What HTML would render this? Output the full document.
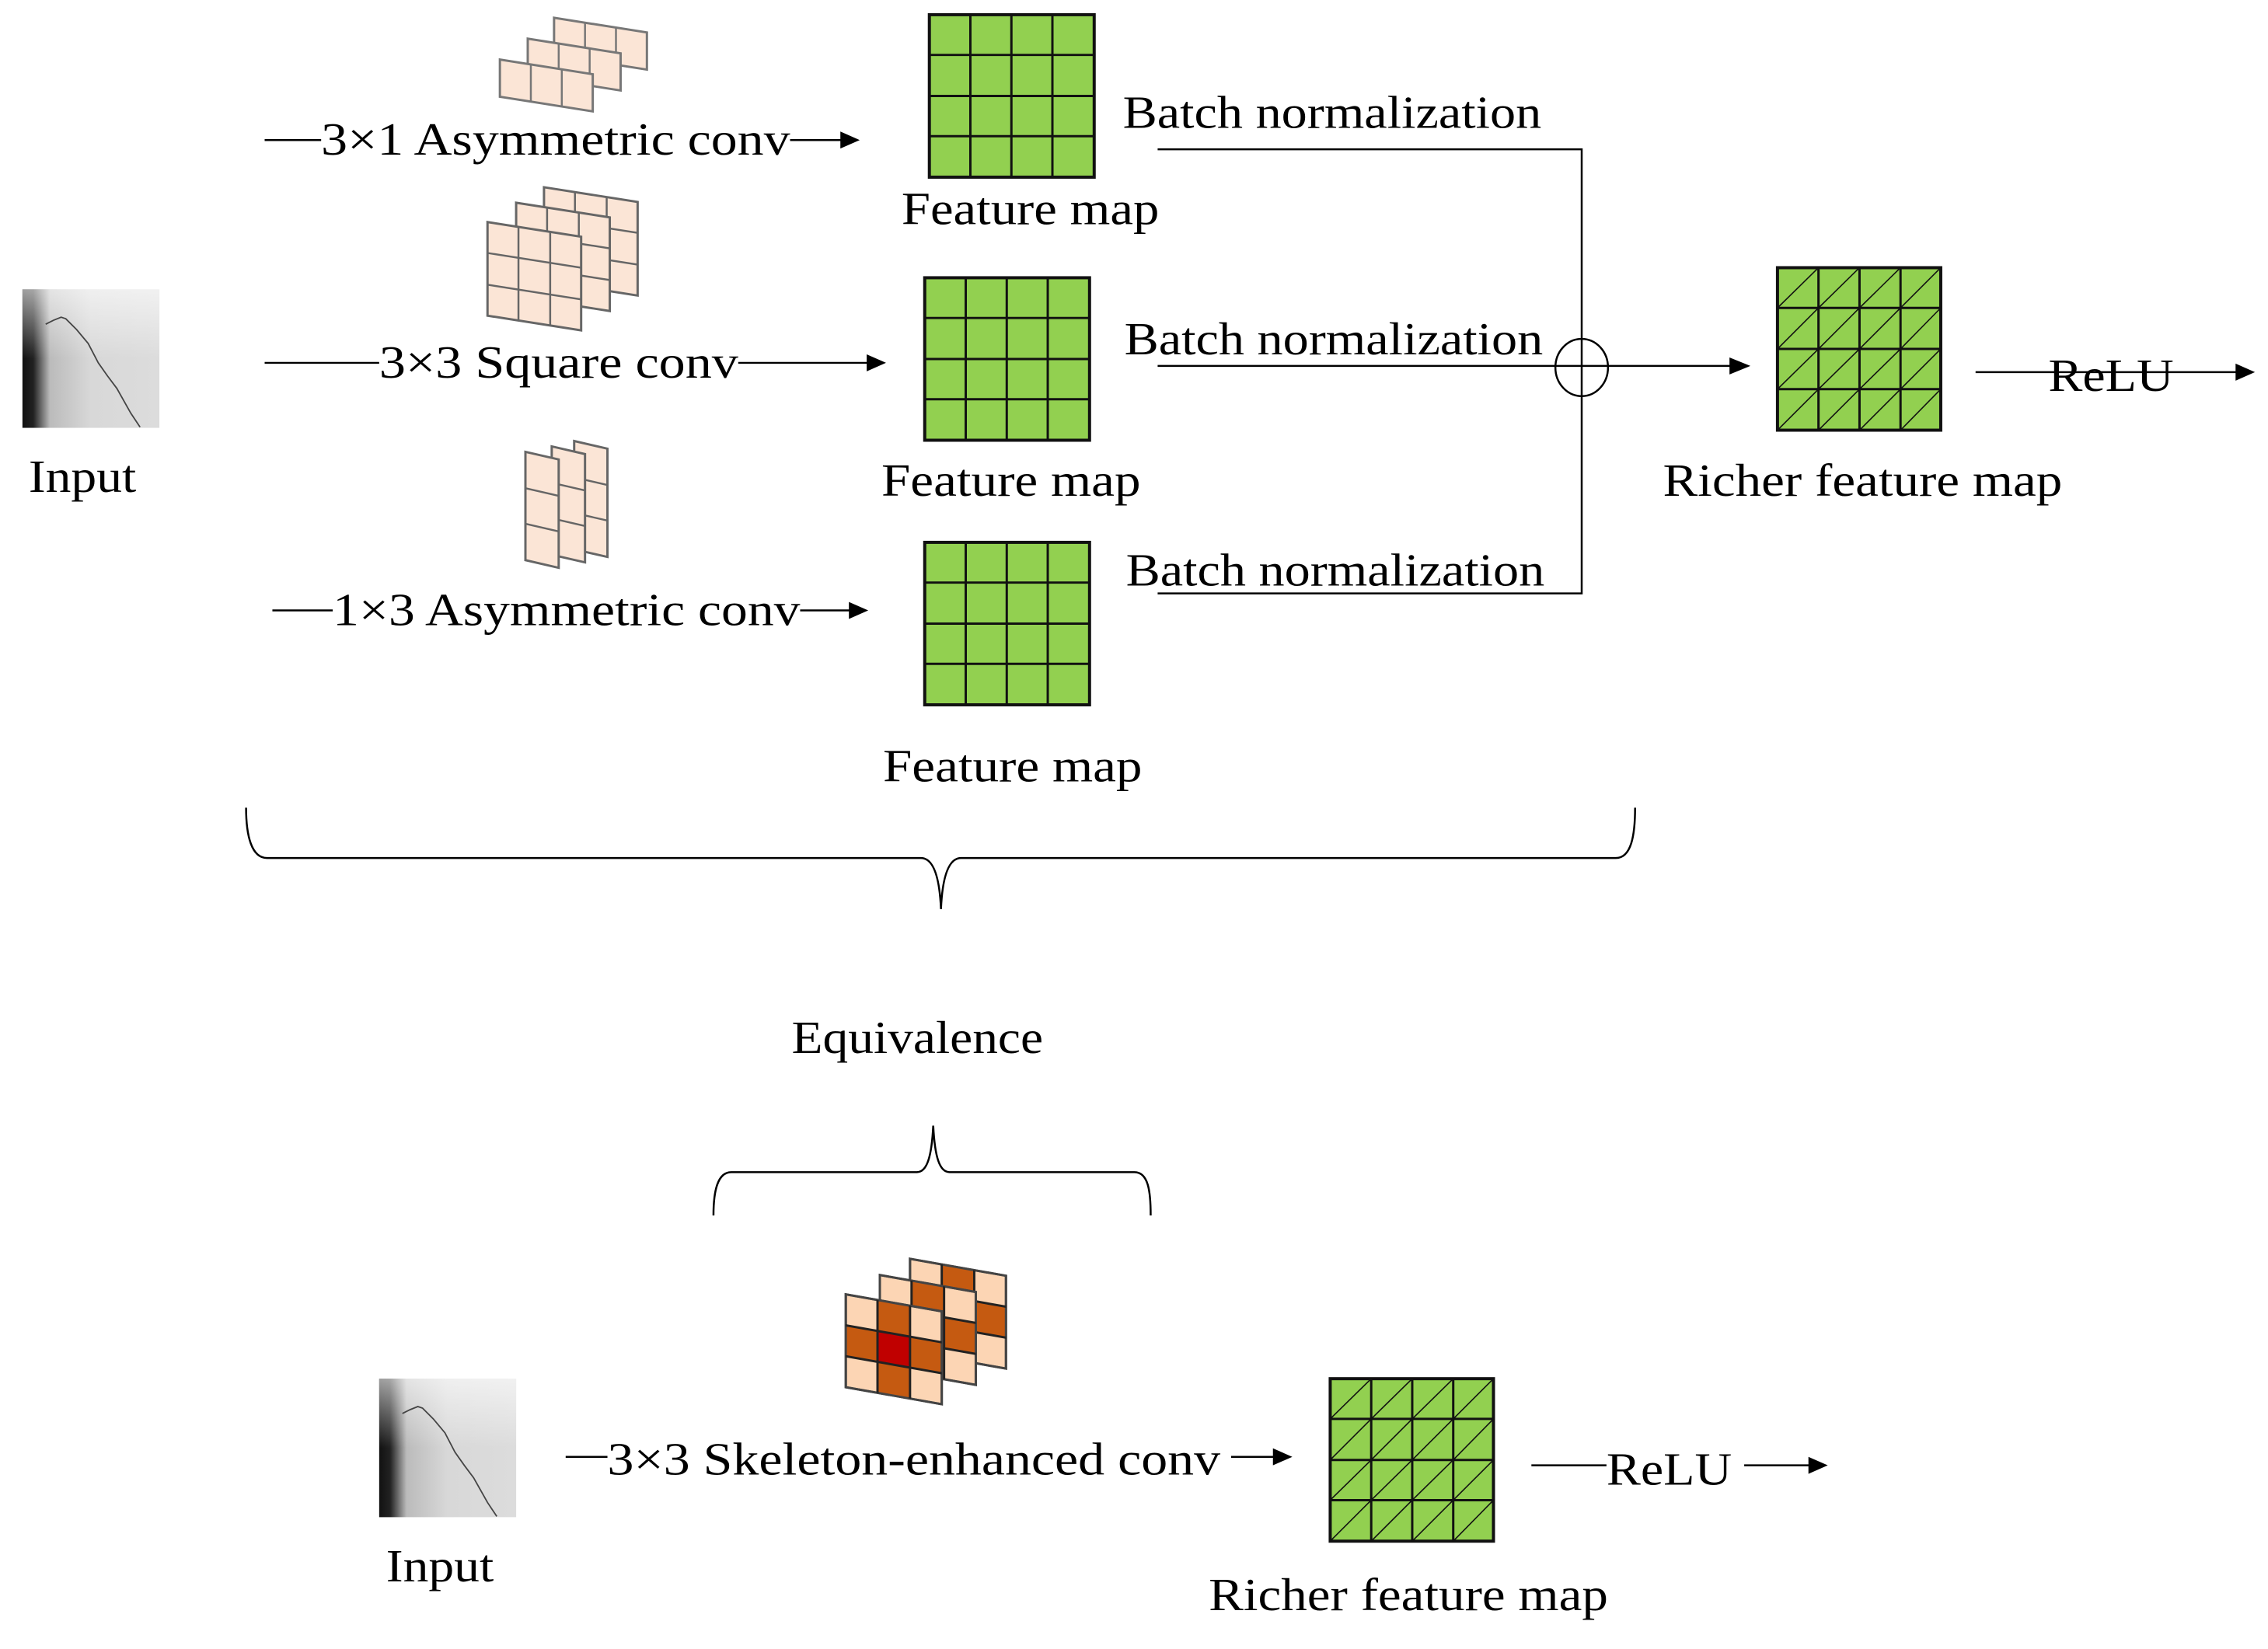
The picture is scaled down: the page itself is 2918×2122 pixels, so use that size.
<!DOCTYPE html>
<html><head><meta charset="utf-8"><style>
html,body{margin:0;padding:0;background:#fff;}
svg{display:block;}
text{font-family:"Liberation Serif",serif;font-size:60px;fill:#000;}
</style></head><body>
<svg width="2918" height="2122" viewBox="0 0 2918 2122" xmlns="http://www.w3.org/2000/svg">
<defs>
<linearGradient id="ig" x1="0" y1="0" x2="1" y2="0">
<stop offset="0" stop-color="#111"/><stop offset="0.08" stop-color="#222"/><stop offset="0.2" stop-color="#bbb"/><stop offset="0.5" stop-color="#d8d8d8"/><stop offset="1" stop-color="#dcdcdc"/>
</linearGradient>
<linearGradient id="ig2" x1="0" y1="0" x2="0" y2="1">
<stop offset="0" stop-color="#fff" stop-opacity="0.6"/><stop offset="0.5" stop-color="#fff" stop-opacity="0"/>
</linearGradient>
<g id="inp">
<rect x="0" y="0" width="177" height="179" fill="url(#ig)"/>
<rect x="0" y="0" width="177" height="179" fill="url(#ig2)"/>
<polyline points="30,45 40,40 50,36 56,38 70,52 85,70 98,95 110,112 122,128 140,160 152,178" fill="none" stroke="#444" stroke-width="1.8"/>
</g>
<g id="fm">
<rect x="0" y="0" width="213" height="210" fill="#92D050" stroke="#111" stroke-width="4"/>
<path d="M53,0V210M106,0V210M159,0V210M0,52H213M0,105H213M0,157H213" stroke="#111" stroke-width="3" fill="none"/>
</g>
<g id="rfm">
<rect x="0" y="0" width="211" height="210" fill="#92D050" stroke="#111" stroke-width="4"/>
<path d="M53,0V210M106,0V210M159,0V210M0,52H211M0,105H211M0,157H211" stroke="#111" stroke-width="3" fill="none"/>
<path d="M0,52L53,0M53,52L106,0M106,52L159,0M159,52L211,0M0,105L53,52M53,105L106,52M106,105L159,52M159,105L211,52M0,157L53,105M53,157L106,105M106,157L159,105M159,157L211,105M0,210L53,157M53,210L106,157M106,210L159,157M159,210L211,157" stroke="#111" stroke-width="1.6" fill="none"/>
</g>
<g id="k31"><rect x="0" y="0" width="120" height="48" fill="#FBE5D6" stroke="#777" stroke-width="3"/><path d="M40,0V48M80,0V48" stroke="#777" stroke-width="2.5"/></g>
<g id="k33"><rect x="0" y="0" width="121" height="121" fill="#FBE5D6" stroke="#666" stroke-width="3"/><path d="M40,0V121M81,0V121M0,40H121M0,81H121" stroke="#666" stroke-width="2.5"/></g>
<g id="k13"><rect x="0" y="0" width="43" height="140" fill="#FBE5D6" stroke="#666" stroke-width="3"/><path d="M0,47H43M0,93H43" stroke="#666" stroke-width="2.5"/></g>
<g id="ks">
<rect x="0" y="0" width="124" height="120" fill="#FCD5B4" stroke="#444" stroke-width="3"/>
<rect x="41" y="0" width="42" height="120" fill="#C55A11"/>
<rect x="0" y="40" width="124" height="40" fill="#C55A11"/>
<rect x="41" y="40" width="42" height="40" fill="#C00000"/>
<rect x="0" y="0" width="124" height="120" fill="none" stroke="#444" stroke-width="3"/>
<path d="M41,0V120M83,0V120M0,40H124M0,80H124" stroke="#222" stroke-width="3"/>
</g>
</defs>
<g transform="scale(0.9956)">
<use href="#inp" x="29" y="374"/>
<use href="#inp" x="490" y="1782"/>
<text x="37" y="636" textLength="139" lengthAdjust="spacingAndGlyphs">Input</text>
<text x="499" y="2044" textLength="139" lengthAdjust="spacingAndGlyphs">Input</text>

<g transform="matrix(1,0.158,0,1,716,23)"><use href="#k31"/></g>
<g transform="matrix(1,0.158,0,1,682,50)"><use href="#k31"/></g>
<g transform="matrix(1,0.158,0,1,646,77)"><use href="#k31"/></g>

<g transform="matrix(1,0.157,0,1,703,242)"><use href="#k33"/></g>
<g transform="matrix(1,0.157,0,1,667,262)"><use href="#k33"/></g>
<g transform="matrix(1,0.157,0,1,630,287)"><use href="#k33"/></g>

<g transform="matrix(1,0.23,0,1,742,570)"><use href="#k13"/></g>
<g transform="matrix(1,0.23,0,1,713,577)"><use href="#k13"/></g>
<g transform="matrix(1,0.23,0,1,679,584)"><use href="#k13"/></g>

<g transform="matrix(1,0.177,0,1,1176,1627)"><use href="#ks"/></g>
<g transform="matrix(1,0.177,0,1,1137,1648)"><use href="#ks"/></g>
<g transform="matrix(1,0.177,0,1,1093,1673)"><use href="#ks"/></g>

<use href="#fm" x="1201" y="19"/>
<use href="#fm" x="1195" y="359"/>
<use href="#fm" x="1195" y="701"/>
<use href="#rfm" x="2297" y="346"/>
<use href="#rfm" x="1719" y="1782"/>

<g stroke="#000" stroke-width="2.5" fill="none">
<path d="M342,181H415M1021,181H1090"/>
<path d="M342,469H490M954,469H1125"/>
<path d="M352,789H430M1034,789H1102"/>
<path d="M1496,193H2044V767H1496"/>
<path d="M1496,473H2259"/>
<path d="M2553,481H2894"/>
<path d="M731,1883H785M1591,1883H1650"/>
<path d="M1979,1894H2076M2254,1894H2342"/>
<ellipse cx="2044" cy="475" rx="34" ry="37"/>
<path d="M318,1044C318,1080 325,1109 345,1109H1190C1205,1109 1214,1130 1216,1175C1218,1130 1227,1109 1242,1109H2088C2108,1109 2113,1080 2113,1044"/>
<path d="M922,1571C922,1540 927,1515 945,1515H1185C1198,1515 1204,1495 1206,1455C1208,1495 1214,1515 1227,1515H1466C1484,1515 1487,1540 1487,1571"/>
</g>
<g fill="#000">
<polygon points="1111,181 1086,170 1086,192"/>
<polygon points="1145,469 1120,458 1120,480"/>
<polygon points="1122,789 1097,778 1097,800"/>
<polygon points="2262,473 2235,462 2235,484"/>
<polygon points="2914,481 2889,470 2889,492"/>
<polygon points="1670,1883 1645,1872 1645,1894"/>
<polygon points="2362,1894 2337,1883 2337,1905"/>
</g>

<text x="415" y="200" textLength="606" lengthAdjust="spacingAndGlyphs">3×1 Asymmetric  conv</text>
<text x="490" y="488" textLength="464" lengthAdjust="spacingAndGlyphs">3×3 Square  conv</text>
<text x="430" y="808" textLength="604" lengthAdjust="spacingAndGlyphs">1×3 Asymmetric  conv</text>
<text x="1451" y="165" textLength="541" lengthAdjust="spacingAndGlyphs">Batch  normalization</text>
<text x="1453" y="458" textLength="541" lengthAdjust="spacingAndGlyphs">Batch  normalization</text>
<text x="1455" y="757" textLength="541" lengthAdjust="spacingAndGlyphs">Batch  normalization</text>
<text x="1165" y="290" textLength="333" lengthAdjust="spacingAndGlyphs">Feature  map</text>
<text x="1139" y="641" textLength="335" lengthAdjust="spacingAndGlyphs">Feature  map</text>
<text x="1141" y="1010" textLength="335" lengthAdjust="spacingAndGlyphs">Feature  map</text>
<text x="2149" y="641" textLength="516" lengthAdjust="spacingAndGlyphs">Richer  feature  map</text>
<text x="2647" y="505" textLength="162" lengthAdjust="spacingAndGlyphs">ReLU</text>
<text x="1023" y="1361" textLength="325" lengthAdjust="spacingAndGlyphs">Equivalence</text>
<text x="785" y="1906" textLength="792" lengthAdjust="spacingAndGlyphs">3×3 Skeleton-enhanced  conv</text>
<text x="2076" y="1919" textLength="162" lengthAdjust="spacingAndGlyphs">ReLU</text>
<text x="1562" y="2081" textLength="516" lengthAdjust="spacingAndGlyphs">Richer  feature  map</text>
</g>
</svg>
</body></html>
